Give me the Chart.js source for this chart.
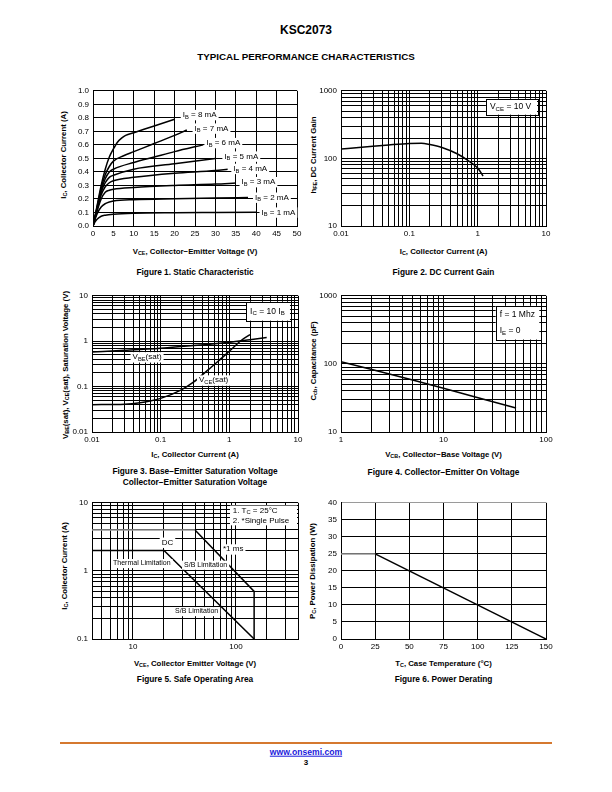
<!DOCTYPE html>
<html>
<head>
<meta charset="utf-8">
<script src="https://cdn.jsdelivr.net/npm/chart.js@4"></script>
<style>
  body { margin: 0; width: 612px; height: 792px; position: relative; overflow: hidden; background: #fff;
         font-family: "Liberation Sans", Arial, sans-serif; color: #000; }
  canvas { position: absolute; }
  .t { position: absolute; white-space: nowrap; font-weight: bold; transform: translate(-50%, -50%); line-height: 1; }
  .v { transform: translate(-50%, -50%) rotate(-90deg); }
  .ax { font-size: 7.8px; }
  .cap { font-size: 8.3px; }
  sub { font-size: 70%; vertical-align: -0.25em; line-height: 0; }
  .rule { position: absolute; left: 60px; top: 742px; width: 492px; height: 1.5px; background: #d5782f; }
  a { color: #1a1adb; text-decoration: underline; }
</style>
</head>
<body>

<div class="t" style="left:306px;top:30px;font-size:12px">KSC2073</div>
<div class="t" style="left:306px;top:57px;font-size:9.8px">TYPICAL PERFORMANCE CHARACTERISTICS</div>

<!-- axis titles -->
<div class="t ax" style="left:195px;top:251.5px">V<sub>CE</sub>, Collector−Emitter Voltage (V)</div>
<div class="t ax v" style="left:64px;top:155px">I<sub>C</sub>, Collector Current (A)</div>
<div class="t ax" style="left:443.5px;top:251.5px">I<sub>C</sub>, Collector Current (A)</div>
<div class="t ax v" style="left:314px;top:155px">h<sub>FE</sub>, DC Current Gain</div>
<div class="t ax" style="left:195px;top:455px">I<sub>C</sub>, Collector Current (A)</div>
<div class="t ax v" style="left:66px;top:365px">V<sub>BE</sub>(sat), V<sub>CE</sub>(sat), Saturation Voltage (V)</div>
<div class="t ax" style="left:443.5px;top:455px">V<sub>CB</sub>, Collector−Base Voltage (V)</div>
<div class="t ax v" style="left:314px;top:361px">C<sub>cb</sub>, Capacitance (pF)</div>
<div class="t ax" style="left:195px;top:664px">V<sub>CE</sub>, Collector Emitter Voltage (V)</div>
<div class="t ax v" style="left:65px;top:566px">I<sub>C</sub>, Collector Current (A)</div>
<div class="t ax" style="left:443.5px;top:664px">T<sub>C</sub>, Case Temperature (°C)</div>
<div class="t ax v" style="left:313px;top:571px">P<sub>C</sub>, Power Dissipation (W)</div>

<!-- captions -->
<div class="t cap" style="left:195px;top:271.5px">Figure 1. Static Characteristic</div>
<div class="t cap" style="left:443.5px;top:272px">Figure 2. DC Current Gain</div>
<div class="t cap" style="left:195px;top:470.7px">Figure 3. Base−Emitter Saturation Voltage</div>
<div class="t cap" style="left:195px;top:481.7px">Collector−Emitter Saturation Voltage</div>
<div class="t cap" style="left:443.5px;top:471.7px">Figure 4. Collector−Emitter On Voltage</div>
<div class="t cap" style="left:195px;top:678.5px">Figure 5. Safe Operating Area</div>
<div class="t cap" style="left:443.5px;top:678.5px">Figure 6. Power Derating</div>

<div class="rule"></div>
<div class="t" style="left:306px;top:752px;font-size:8.6px"><a href="http://www.onsemi.com/">www.onsemi.com</a></div>
<div class="t" style="left:306px;top:762.5px;font-size:8px">3</div>

<script>
"use strict";

// Figure 1 - static characteristic, [VCE (V), IC (A)]
const ib1mA = [[0,0],[0.5,0.03],[1,0.05],[2,0.072],[3,0.08],[5,0.087],[10,0.094],[20,0.098],[30,0.1],[40,0.102]];
const ib2mA = [[0,0],[0.5,0.05],[1,0.09],[2,0.14],[3,0.165],[4,0.178],[5,0.185],[10,0.195],[20,0.202],[30,0.207],[38,0.21]];
const ib3mA = [[0,0],[1,0.11],[2,0.2],[3,0.25],[4,0.265],[5,0.272],[10,0.285],[20,0.3],[30,0.31],[35,0.318]];
const ib4mA = [[0,0],[1,0.12],[2,0.23],[3,0.29],[4,0.32],[5,0.335],[10,0.36],[20,0.39],[30,0.41],[33,0.42]];
const ib5mA = [[0,0],[1,0.13],[2,0.25],[3,0.32],[4,0.36],[5,0.375],[10,0.42],[20,0.46],[30,0.5]];
const ib6mA = [[0,0],[1,0.13],[2,0.26],[3,0.35],[4,0.4],[5,0.42],[10,0.47],[15,0.51],[20,0.55],[27,0.6]];
const ib7mA = [[0,0],[1,0.14],[2,0.28],[3,0.38],[4,0.44],[5,0.48],[7.5,0.52],[10,0.55],[15,0.61],[20,0.67],[23,0.71]];
const ib8mA = [[0,0],[1,0.15],[2,0.3],[3,0.42],[4,0.51],[5,0.57],[6,0.62],[7,0.65],[8,0.67],[10,0.69],[15,0.74],[20,0.79]];

// Figure 2 - DC current gain
const hfeIc   = [0.01, 0.02, 0.05, 0.1, 0.15, 0.2, 0.3, 0.5, 0.7, 1, 1.2];
const hfeGain = [138, 146, 158, 166, 167, 160, 145, 117, 95, 72, 55];

// Figure 3 - saturation voltages
const vbeIc  = [0.01, 0.03, 0.1, 0.3, 1, 2, 3.5];
const vbeSat = [0.58, 0.63, 0.7, 0.8, 0.95, 1.08, 1.2];
const vceIc  = [0.01, 0.03, 0.05, 0.07, 0.1, 0.2, 0.3, 0.5, 0.7, 1, 1.5, 2];
const vceSat = [0.04, 0.041, 0.044, 0.048, 0.055, 0.085, 0.125, 0.24, 0.37, 0.6, 1.05, 1.4];

// Figure 4 - output capacitance
const cbVolts = [1, 2, 5, 10, 20, 51];
const cbCap   = [108, 83, 58, 44, 33, 22.5];

// Figure 5 - safe operating area
const soaPeakV = [4, 40];
const soaPeakI = [4, 4];
const soa1msV  = [40, 150, 150];
const soa1msI  = [4, 0.5, 0.1];
const soaDcV   = [4, 20, 150];
const soaDcI   = [2, 2, 0.1];

// Figure 6 - power derating
const flatTemp  = [0, 25];
const flatPower = [25, 25];
const derTemp   = [25, 150];
const derPower  = [25, 0];

// tick labels
const fig2XLabels = ['0.01', '0.1', '1', '10'];
const fig2YLabels = ['10', '100', '1000'];
const fig3XLabels = ['0.01', '0.1', '1', '10'];
const fig3YLabels = ['0.01', '0.1', '1', '10'];
const fig4XLabels = ['1', '10', '100'];
const fig4YLabels = ['10', '100', '1000'];
const fig5XLabels = ['10', '100'];
const fig5YLabels = ['0.1', '1', '10'];

const FONT = '"Liberation Sans", Arial, sans-serif';
const PAD_L = 34, PAD_T = 8, PAD_R = 14, PAD_B = 18;

const xy = (xs, ys) => xs.map((x, i) => ({ x, y: ys[i] }));
const pairs = arr => arr.map(p => ({ x: p[0], y: p[1] }));
const fmt = v => String(+(+v).toPrecision(6));

function logGrid(min, max) {
  const out = [];
  for (let e = Math.floor(Math.log10(min)); e <= Math.ceil(Math.log10(max)); e++) {
    for (let m = 1; m < 10; m++) {
      const v = +(m * Math.pow(10, e)).toPrecision(6);
      if (v >= min * 0.9999 && v <= max * 1.0001) out.push(v);
    }
  }
  return out;
}

// rich text: "I_{B} = 8 mA"
function parse(str) {
  const out = [], re = /_\{([^}]*)\}/g;
  let last = 0, m;
  while ((m = re.exec(str))) {
    if (m.index > last) out.push([str.slice(last, m.index), false]);
    out.push([m[1], true]);
    last = re.lastIndex;
  }
  if (last < str.length) out.push([str.slice(last), false]);
  return out;
}
function richWidth(ctx, parts, size) {
  let w = 0;
  for (const [t, sub] of parts) {
    ctx.font = (sub ? size * 0.72 : size) + 'px ' + FONT;
    w += ctx.measureText(t).width;
  }
  return w;
}
function drawRich(ctx, parts, x, y, size) {
  ctx.fillStyle = '#000';
  ctx.textAlign = 'left';
  ctx.textBaseline = 'middle';
  for (const [t, sub] of parts) {
    ctx.font = (sub ? size * 0.72 : size) + 'px ' + FONT;
    ctx.fillText(t, x, sub ? y + size * 0.28 : y);
    x += ctx.measureText(t).width;
  }
}

const notes = {
  id: 'notes',
  afterDatasetsDraw(chart, args, opts) {
    const { ctx } = chart;
    const xs = chart.scales.x, ys = chart.scales.y;
    ctx.save();
    for (const n of opts.items || []) {
      const size = n.size || 8;
      if (n.box) {
        const l = xs.getPixelForValue(n.box[0]), r = xs.getPixelForValue(n.box[1]);
        const t = ys.getPixelForValue(n.box[2]), b = ys.getPixelForValue(n.box[3]);
        ctx.fillStyle = '#fff';
        ctx.fillRect(l, t, r - l - 1, b - t);
        if (n.border) {
          ctx.strokeStyle = '#000';
          ctx.lineWidth = 1;
          ctx.strokeRect(Math.round(l) + 0.5, Math.round(t) + 0.5, Math.round(r - l), Math.round(b - t));
        }
        const step = (b - t) / n.lines.length;
        n.lines.forEach((s, i) => drawRich(ctx, parse(s), l + (n.pad || 4), t + step * (i + 0.5), size));
      } else {
        const parts = parse(n.text);
        const w = richWidth(ctx, parts, size);
        const px = xs.getPixelForValue(n.at[0]), py = ys.getPixelForValue(n.at[1]);
        ctx.fillStyle = '#fff';
        ctx.fillRect(px - 2, py - size * 0.62, w + 4, size * 1.3);
        drawRich(ctx, parts, px, py, size);
      }
    }
    ctx.restore();
  }
};

function axis(kind, opts) {
  const a = {
    type: opts.type || 'linear',
    min: opts.min,
    max: opts.max,
    border: { color: '#000', width: 1 },
    grid: { color: opts.gridColor || '#000', lineWidth: 1, drawTicks: false },
    ticks: {
      color: '#000',
      font: { size: 8, family: FONT },
      padding: kind === 'x' ? 3 : 4,
      autoSkip: false,
      maxRotation: 0,
      callback: opts.labels ? (v => opts.labels.includes(fmt(v)) ? fmt(v) : '') : opts.callback,
    },
    afterFit: s => { if (kind === 'x') s.height = PAD_B; else s.width = PAD_L; },
  };
  if (opts.step) a.ticks.stepSize = opts.step;
  if (opts.type === 'logarithmic') {
    const grid = logGrid(opts.min, opts.max);
    a.afterBuildTicks = s => { s.ticks = grid.map(v => ({ value: v })); };
  }
  return a;
}

function line(data, extra) {
  return Object.assign({ data, borderColor: '#000', borderWidth: 1.5, pointRadius: 0, fill: false, tension: 0 }, extra || {});
}

function panel(rect, datasets, xOpts, yOpts, items) {
  const c = document.createElement('canvas');
  c.width = rect.right - rect.left + PAD_L + PAD_R;
  c.height = rect.bottom - rect.top + PAD_T + PAD_B;
  c.style.left = (rect.left - PAD_L) + 'px';
  c.style.top = (rect.top - PAD_T) + 'px';
  document.body.appendChild(c);
  return new Chart(c, {
    type: 'line',
    data: { datasets },
    options: {
      responsive: false,
      animation: false,
      devicePixelRatio: 1,
      layout: { padding: { left: 0, top: PAD_T, right: PAD_R, bottom: 0 } },
      plugins: { legend: { display: false }, tooltip: { enabled: false }, notes: { items: items || [] } },
      scales: { x: axis('x', xOpts), y: axis('y', yOpts) },
    },
    plugins: [notes],
  });
}

const smooth = { cubicInterpolationMode: 'monotone' };

// Figure 1
panel({ left: 93, top: 90, right: 297, bottom: 226 },
  [ib1mA, ib2mA, ib3mA, ib4mA, ib5mA, ib6mA, ib7mA, ib8mA].map(c => line(pairs(c), smooth)),
  { min: 0, max: 50, step: 5 },
  { min: 0, max: 1, step: 0.1, callback: v => v.toFixed(1) },
  [
    { text: 'I_{B} = 8 mA', at: [22.0, 0.822] },
    { text: 'I_{B} = 7 mA', at: [24.9, 0.722] },
    { text: 'I_{B} = 6 mA', at: [27.8, 0.615] },
    { text: 'I_{B} = 5 mA', at: [32.2, 0.515] },
    { text: 'I_{B} = 4 mA', at: [34.4, 0.424] },
    { text: 'I_{B} = 3 mA', at: [36.4, 0.326] },
    { text: 'I_{B} = 2 mA', at: [39.7, 0.211] },
    { text: 'I_{B} = 1 mA', at: [41.3, 0.101] },
  ]);

// Figure 2
panel({ left: 341, top: 90, right: 546, bottom: 226 },
  [line(xy(hfeIc, hfeGain), smooth)],
  { type: 'logarithmic', min: 0.01, max: 10, labels: fig2XLabels },
  { type: 'logarithmic', min: 10, max: 1000, labels: fig2YLabels },
  [{ box: [1.32, 7.64, 763, 444], border: true, size: 8.5, lines: ['V_{CE} = 10 V'] }]);

// Figure 3
panel({ left: 92, top: 295, right: 298, bottom: 432 },
  [line(xy(vbeIc, vbeSat), smooth), line(xy(vceIc, vceSat), smooth)],
  { type: 'logarithmic', min: 0.01, max: 10, labels: fig3XLabels },
  { type: 'logarithmic', min: 0.01, max: 10, labels: fig3YLabels },
  [
    { box: [1.75, 7.9, 7.39, 2.84], border: true, size: 8.5, lines: ['I_{C} = 10 I_{B}'] },
    { text: 'V_{BE}(sat)', at: [0.039, 0.446] },
    { text: 'V_{CE}(sat)', at: [0.361, 0.1377] },
  ]);

// Figure 4
panel({ left: 341, top: 295, right: 546, bottom: 432 },
  [line(xy(cbVolts, cbCap))],
  { type: 'logarithmic', min: 1, max: 100, labels: fig4XLabels },
  { type: 'logarithmic', min: 10, max: 1000, labels: fig4YLabels },
  [{ box: [32.3, 88, 713, 228], border: true, size: 8.5, lines: ['f = 1 Mhz', 'I_{E} = 0'] }]);

// Figure 5
panel({ left: 92, top: 502, right: 298, bottom: 639 },
  [
    line(xy(soaPeakV, soaPeakI), { borderColor: '#9a9a9a' }),
    line(xy(soa1msV, soa1msI)),
    line(xy(soaDcV, soaDcI)),
  ],
  { type: 'logarithmic', min: 4, max: 400, labels: fig5XLabels },
  { type: 'logarithmic', min: 0.1, max: 10, labels: fig5YLabels },
  [
    { box: [87.5, 400, 9.1, 4.67], border: false, pad: 2.7, size: 8, lines: ['1. T_{C} = 25°C', '2. *Single Pulse'] },
    { text: 'DC', at: [19.0, 2.61] },
    { text: '*1 ms', at: [74.8, 2.08] },
    { text: 'Thermal Limitation', at: [6.4, 1.29], size: 7 },
    { text: 'S/B Limitation', at: [31.3, 1.22], size: 7 },
    { text: 'S/B Limitation', at: [25.6, 0.254], size: 7 },
  ]);

// Figure 6
panel({ left: 341, top: 502, right: 546, bottom: 639 },
  [line(xy(flatTemp, flatPower), { borderColor: '#9a9a9a' }), line(xy(derTemp, derPower))],
  { min: 0, max: 150, step: 25 },
  { min: 0, max: 40, step: 5, gridColor: ctx => (ctx.tick && ctx.tick.value === 40 ? '#9a9a9a' : '#000') });
</script>
</body>
</html>
